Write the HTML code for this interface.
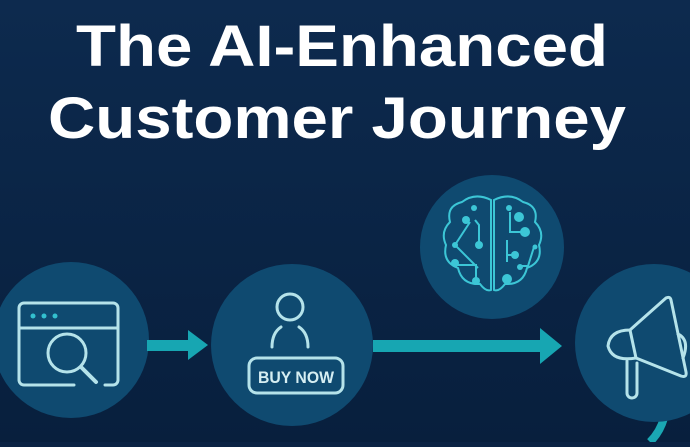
<!DOCTYPE html>
<html><head><style>html,body{margin:0;padding:0;background:#0b2344}</style></head><body>
<svg width="690" height="442" viewBox="0 0 690 442" xmlns="http://www.w3.org/2000/svg">
<defs><linearGradient id="bg" x1="0" y1="0" x2="0" y2="1"><stop offset="0" stop-color="#0d2a4e"/><stop offset="1" stop-color="#081f3d"/></linearGradient></defs>
<rect width="690" height="442" fill="url(#bg)"/>
<g font-family="Liberation Sans, Arial, sans-serif" font-weight="bold" fill="#fff" text-anchor="middle">
<text x="342" y="66" font-size="58" textLength="532" lengthAdjust="spacingAndGlyphs">The AI-Enhanced</text>
<text x="337" y="138" font-size="58" textLength="578" lengthAdjust="spacingAndGlyphs">Customer Journey</text>
</g>
<path d="M664 418 Q660 432 650 442" stroke="#1aa7b3" stroke-width="8" fill="none"/>
<g fill="#0f4a70">
<circle cx="71" cy="340" r="78"/>
<circle cx="292" cy="345" r="81"/>
<circle cx="492" cy="247" r="72"/>
<circle cx="654" cy="343" r="79"/>
</g>
<g fill="#17a6b2">
<rect x="147" y="340" width="44" height="11"/><polygon points="188,330 208,345 188,360"/>
<rect x="373" y="340" width="170" height="12"/><polygon points="540,328 562,346 540,364"/>
</g>
<g stroke="#b5e3ea" stroke-width="3" fill="none" stroke-linecap="round" stroke-linejoin="round">
<path d="M74 385 H24 a5 5 0 0 1 -5 -5 V308 a5 5 0 0 1 5 -5 H113 a5 5 0 0 1 5 5 V380 a5 5 0 0 1 -5 5 H105"/>
<line x1="19" y1="328" x2="118" y2="328"/>
<circle cx="67" cy="353" r="19"/><line x1="81" y1="367" x2="96" y2="382" stroke-width="4"/>
<circle cx="290" cy="307" r="13"/>
<path d="M272 347 Q272 333 281 327"/><path d="M308 347 Q308 333 299 327"/>
<rect x="249" y="358" width="94" height="35" rx="8"/>
<path d="M627 361 V393 a5 5 0 0 0 10 0 V363"/>
<path d="M630 330 L666 298 Q670 296 671 300 L686 372 Q687 378 681 376 L636 358 Q612 362 608 346 Q610 330 630 330 Z"/>
<line x1="630" y1="330" x2="636" y2="358"/>
<path d="M678 334 Q690 340 683 358"/>
</g>
<g fill="#33c0cf"><circle cx="33" cy="316" r="2.5"/><circle cx="44" cy="316" r="2.5"/><circle cx="55" cy="316" r="2.5"/></g>
<text x="296" y="383" font-family="Liberation Sans, Arial, sans-serif" font-weight="bold" font-size="17" fill="#d6eef2" text-anchor="middle" textLength="76" lengthAdjust="spacingAndGlyphs">BUY NOW</text>
<g stroke="#3cc6d6" stroke-width="2" fill="none">
<path d="M491 200 Q475 192 462 202 Q446 206 450 222 Q440 232 446 245 Q442 262 458 268 Q462 285 480 284 Q486 292 491 290 Z"/>
<path d="M494 200 Q510 192 523 202 Q539 206 535 222 Q545 232 539 245 Q543 262 527 268 Q523 285 505 284 Q499 292 494 290 Z"/>
<path d="M475 220 L479 225 V245"/><path d="M470 222 L455 245 L478 268"/><path d="M455 265 H476 V280"/>
<path d="M510 212 V232 H525"/><path d="M507 240 V262"/><path d="M534 247 L528 266 H520"/><path d="M515 255 H508"/>
</g>
<g fill="#3cc6d6">
<circle cx="466" cy="220" r="4"/><circle cx="474" cy="208" r="3"/><circle cx="479" cy="245" r="4"/><circle cx="455" cy="245" r="3"/>
<circle cx="455" cy="263" r="4"/><circle cx="476" cy="281" r="4"/><circle cx="509" cy="208" r="3"/><circle cx="519" cy="217" r="5"/>
<circle cx="525" cy="232" r="5"/><circle cx="515" cy="255" r="4"/><circle cx="507" cy="279" r="5"/><circle cx="520" cy="267" r="3"/><circle cx="535" cy="247" r="2.5"/>
</g>
</svg>
</body></html>
